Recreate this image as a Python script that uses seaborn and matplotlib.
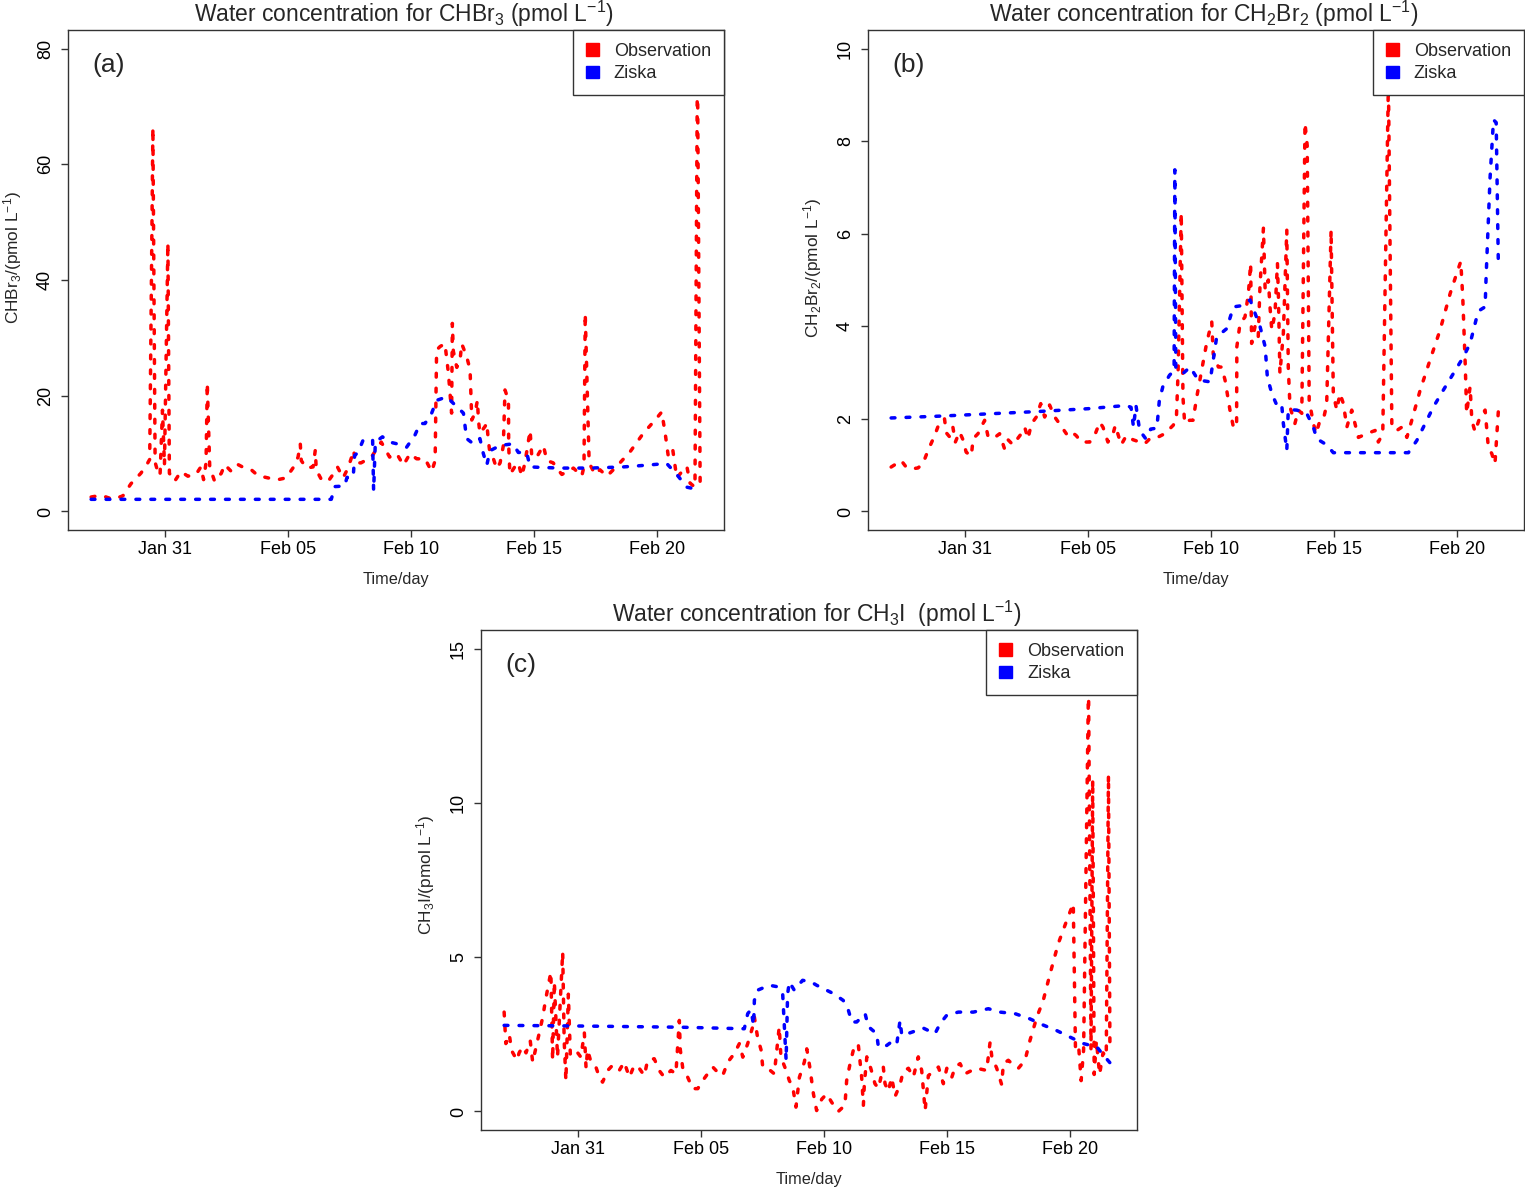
import numpy as np
import pandas as pd
import matplotlib
matplotlib.use("Agg")
import matplotlib.pyplot as plt
from matplotlib.patches import Patch
import seaborn as sns

sns.set_style("ticks")
plt.rcParams["font.family"] = ["Liberation Sans", "DejaVu Sans"]
plt.rcParams["mathtext.fontset"] = "custom"
plt.rcParams["mathtext.rm"] = "Liberation Sans"
plt.rcParams["mathtext.it"] = "Liberation Sans:italic"
plt.rcParams["mathtext.bf"] = "Liberation Sans:bold"
plt.rcParams["mathtext.default"] = "regular"

# time axis: days after Jan 31
start = pd.Timestamp("2016-01-31")
tick_days = [0, 5, 10, 15, 20]
tick_labels = ["Jan 31", "Feb 05", "Feb 10", "Feb 15", "Feb 20"]

# ---- CHBr3 ----
chbr3_obs_day = [-3.00, -2.60, -2.11, -1.71, -1.38, -0.98, -0.75, -0.62, -0.49, -0.40,
                 -0.30, -0.20, -0.10, -0.02, 0.12, 0.18, 0.39, 0.65, 0.93, 1.26,
                 1.46, 1.57, 1.67, 1.72, 1.82, 2.02, 2.29, 2.43, 2.70, 2.97,
                 3.24, 3.51, 3.78, 4.19, 4.59, 4.92, 5.20, 5.41, 5.50, 5.54,
                 5.75, 6.02, 6.11, 6.15, 6.36, 6.63, 6.83, 7.01, 7.24, 7.44,
                 7.68, 7.71, 7.97, 8.39, 8.79, 9.13, 9.42, 9.69, 9.96, 10.23,
                 10.57, 10.84, 10.98, 11.04, 11.18, 11.38, 11.52, 11.65, 11.68, 11.72,
                 11.86, 11.99, 12.06, 12.26, 12.40, 12.47, 12.60, 12.70, 12.74, 12.80,
                 13.01, 13.08, 13.14, 13.21, 13.35, 13.48, 13.62, 13.75, 13.82, 13.96,
                 13.97, 14.02, 14.23, 14.36, 14.50, 14.63, 14.84, 14.91, 15.11, 15.38,
                 15.52, 15.78, 15.92, 16.13, 16.60, 16.94, 17.03, 17.08, 17.24, 17.48,
                 17.68, 17.96, 18.36, 18.90, 19.44, 19.92, 20.19, 20.33, 20.46, 20.64,
                 20.80, 21.07, 21.21, 21.34, 21.54, 21.64, 21.75]
chbr3_obs = [2.5, 2.8, 2.1, 2.7, 4.8, 6.6, 8.0, 9.0, 66.3, 8.5,
             7.0, 6.2, 17.5, 8.0, 46.4, 6.6, 5.2, 6.9, 6.1, 6.4,
             7.7, 5.5, 8.4, 22.2, 7.7, 5.2, 6.6, 8.1, 6.9, 8.1,
             7.5, 7.2, 6.2, 5.8, 5.5, 5.8, 7.5, 9.4, 11.7, 8.8,
             7.5, 7.7, 10.6, 7.2, 5.5, 5.2, 6.4, 7.7, 5.8, 7.5,
             10.6, 8.4, 8.4, 9.4, 12.0, 9.4, 10.0, 8.0, 10.0, 9.1,
             9.1, 6.9, 8.8, 27.9, 28.5, 29.0, 23.9, 17.0, 32.5, 27.7,
             24.9, 26.0, 29.0, 26.8, 24.5, 15.8, 17.0, 19.2, 15.8, 13.5,
             14.7, 15.3, 12.4, 10.0, 9.1, 7.4, 8.4, 11.3, 21.0, 19.2,
             11.3, 6.4, 7.8, 8.4, 6.1, 8.4, 14.0, 9.4, 9.4, 11.4,
             8.8, 8.4, 7.5, 6.4, 7.5, 6.1, 7.8, 34.2, 8.4, 6.4,
             7.2, 6.1, 7.8, 10.3, 13.5, 15.8, 17.2, 13.5, 9.4, 10.6,
             5.8, 7.2, 7.8, 4.9, 4.2, 78.0, 4.9]
chbr3_zis_day = [-3.00, 6.76, 6.90, 7.30, 7.40, 7.65, 7.71, 7.85, 8.05, 8.30,
                 8.44, 8.48, 8.55, 8.84, 9.13, 9.42, 9.82, 10.16, 10.37, 10.57,
                 10.84, 11.04, 11.45, 11.79, 12.13, 12.26, 12.53, 12.80, 12.94, 13.08,
                 13.21, 13.62, 14.15, 14.36, 14.70, 14.84, 15.38, 16.06, 17.28, 18.63,
                 19.58, 20.39, 20.80, 21.21, 21.54, 21.70]
chbr3_zis = [2.1, 2.1, 4.3, 4.4, 5.9, 5.9, 9.7, 10.2, 12.3, 12.0,
             12.3, 3.6, 12.0, 12.9, 12.0, 11.7, 11.1, 13.2, 15.2, 15.2,
             17.0, 19.2, 19.8, 18.4, 17.0, 12.6, 11.7, 12.6, 10.0, 8.0,
             10.5, 11.4, 11.7, 10.2, 10.2, 7.7, 7.6, 7.5, 7.5, 7.7,
             8.0, 8.3, 6.4, 4.2, 3.9, 3.9]

# ---- CH2Br2 ----
ch2br2_obs_day = [-3.00, -2.79, -2.59, -2.39, -2.18, -1.91, -1.71, -1.50, -1.23, -1.03,
                  -0.83, -0.76, -0.62, -0.49, -0.39, -0.22, -0.08, 0.05, 0.26, 0.33,
                  0.53, 0.66, 0.80, 0.93, 1.14, 1.41, 1.61, 1.75, 1.95, 2.29,
                  2.43, 2.56, 2.70, 2.90, 3.08, 3.24, 3.44, 3.65, 3.85, 4.12,
                  4.26, 4.52, 4.73, 5.07, 5.27, 5.48, 5.61, 5.81, 6.02, 6.11,
                  6.35, 6.56, 6.83, 7.10, 7.30, 7.51, 7.71, 8.12, 8.46, 8.59,
                  8.66, 8.79, 8.86, 8.93, 9.13, 9.27, 9.42, 9.62, 9.82, 10.03,
                  10.09, 10.30, 10.43, 10.57, 10.77, 10.91, 11.04, 11.05, 11.18, 11.38,
                  11.52, 11.61, 11.65, 11.79, 11.92, 11.99, 12.13, 12.20, 12.33, 12.40,
                  12.47, 12.60, 12.70, 12.74, 12.80, 12.94, 13.01, 13.08, 13.14, 13.21,
                  13.41, 13.55, 13.69, 13.82, 13.91, 13.99, 14.16, 14.27, 14.43, 14.57,
                  14.70, 14.88, 14.97, 15.11, 15.24, 15.38, 15.52, 15.72, 15.85, 15.99,
                  16.33, 16.67, 16.80, 16.98, 17.21, 17.35, 17.55, 17.75, 17.96, 18.16,
                  18.50, 18.90, 19.31, 19.72, 19.99, 20.15, 20.23, 20.33, 20.39, 20.53,
                  20.60, 20.73, 20.93, 21.14, 21.27, 21.41, 21.54, 21.68]
ch2br2_obs = [0.96, 1.03, 1.10, 0.96, 0.92, 0.94, 1.03, 1.32, 1.64, 1.93,
              2.00, 1.70, 1.61, 1.82, 1.50, 1.72, 1.55, 1.28, 1.20, 1.57,
              1.68, 1.82, 1.97, 1.64, 1.57, 1.68, 1.35, 1.55, 1.44, 1.68,
              1.82, 1.57, 1.89, 2.04, 2.33, 2.04, 2.30, 2.04, 1.89, 1.68,
              1.75, 1.64, 1.50, 1.50, 1.64, 1.93, 1.82, 1.50, 1.68, 1.86,
              1.44, 1.64, 1.55, 1.50, 1.46, 1.57, 1.57, 1.68, 1.86, 1.97,
              2.98, 6.45, 2.47, 1.90, 1.97, 1.97, 2.47, 3.05, 3.63, 4.10,
              3.40, 3.12, 3.12, 2.84, 2.19, 1.82, 1.82, 3.56, 4.06, 4.20,
              4.71, 5.36, 3.63, 4.00, 3.78, 4.86, 6.12, 4.78, 5.00, 4.40,
              3.92, 4.28, 5.36, 4.64, 2.98, 3.85, 5.00, 6.08, 3.12, 2.26,
              1.90, 2.19, 2.12, 8.39, 7.90, 2.40, 1.90, 1.68, 1.97, 2.00,
              2.30, 6.08, 2.55, 2.19, 2.55, 2.33, 1.82, 2.19, 1.90, 1.60,
              1.68, 1.75, 1.50, 1.68, 9.30, 1.82, 1.75, 1.82, 1.60, 1.97,
              2.62, 3.27, 3.92, 4.71, 5.15, 5.40, 4.64, 3.20, 2.12, 2.70,
              1.97, 1.72, 2.04, 2.19, 1.39, 1.25, 1.03, 2.19]
ch2br2_zis_day = [-3.00, -1.00, 1.00, 3.00, 5.00, 6.56, 6.75, 6.85, 6.95, 7.10,
                  7.35, 7.55, 7.80, 7.90, 8.04, 8.31, 8.50, 8.53, 8.57, 8.86,
                  9.15, 9.48, 9.96, 10.23, 10.64, 10.91, 11.18, 11.59, 11.79, 11.99,
                  12.20, 12.29, 12.47, 12.67, 12.87, 12.94, 13.08, 13.14, 13.48, 13.89,
                  14.16, 14.30, 14.70, 14.97, 18.02, 18.36, 18.63, 19.04, 19.44, 19.85,
                  20.26, 20.53, 20.80, 20.93, 21.14, 21.18, 21.34, 21.48, 21.59, 21.68]
ch2br2_zis = [2.02, 2.06, 2.11, 2.16, 2.22, 2.29, 2.25, 1.82, 2.29, 1.75,
              1.57, 1.78, 1.80, 2.40, 2.69, 2.94, 3.05, 7.38, 3.10, 2.98,
              3.12, 2.84, 2.80, 3.77, 3.95, 4.42, 4.44, 4.57, 4.28, 4.00,
              3.56, 2.90, 2.55, 2.30, 2.33, 1.90, 1.32, 2.20, 2.19, 2.12,
              1.82, 1.57, 1.44, 1.27, 1.27, 1.53, 1.82, 2.26, 2.62, 2.98,
              3.34, 3.63, 4.20, 4.35, 4.42, 5.07, 7.20, 8.46, 8.40, 5.25]

# ---- CH3I ----
ch3i_obs_day = [-3.00, -2.93, -2.79, -2.70, -2.48, -2.39, -2.25, -2.11, -1.94, -1.84,
                -1.71, -1.57, -1.43, -1.34, -1.23, -1.10, -1.03, -0.96, -0.83, -0.62,
                -0.56, -0.49, -0.39, -0.31, -0.22, -0.01, 0.12, 0.26, 0.33, 0.39,
                0.53, 0.73, 0.87, 1.00, 1.21, 1.41, 1.68, 1.88, 2.09, 2.29,
                2.49, 2.70, 2.83, 3.10, 3.30, 3.51, 3.78, 3.98, 4.12, 4.16,
                4.26, 4.46, 4.66, 4.87, 5.07, 5.27, 5.48, 5.68, 5.88, 6.09,
                6.35, 6.56, 6.70, 6.90, 7.10, 7.17, 7.30, 7.44, 7.51, 7.71,
                7.98, 8.18, 8.25, 8.46, 8.59, 8.73, 8.86, 9.00, 9.20, 9.30,
                9.43, 9.57, 9.70, 9.91, 10.11, 10.31, 10.58, 10.85, 10.92, 11.06,
                11.19, 11.39, 11.46, 11.53, 11.60, 11.64, 11.74, 11.90, 12.07, 12.21,
                12.41, 12.48, 12.61, 12.75, 12.89, 13.09, 13.22, 13.43, 13.63, 13.83,
                13.97, 14.11, 14.24, 14.44, 14.65, 14.85, 14.99, 15.19, 15.33, 15.53,
                15.73, 15.93, 16.21, 16.61, 16.75, 16.82, 17.02, 17.22, 17.29, 17.49,
                17.70, 17.90, 18.17, 18.37, 18.65, 18.91, 19.19, 19.52, 19.87, 20.13,
                20.22, 20.35, 20.45, 20.55, 20.75, 20.85, 20.92, 20.98, 21.07, 21.20,
                21.34, 21.47, 21.56, 21.62]
ch3i_obs = [3.22, 2.20, 2.50, 1.98, 1.66, 1.90, 2.10, 1.90, 2.30, 1.60,
            2.05, 2.55, 3.06, 3.50, 3.98, 4.52, 1.66, 4.20, 1.76, 5.17,
            2.30, 1.00, 3.80, 1.85, 1.98, 1.90, 1.76, 2.55, 1.40, 2.00,
            1.60, 1.44, 1.11, 0.95, 1.33, 1.50, 1.33, 1.60, 1.11, 1.50,
            1.40, 1.16, 1.66, 1.71, 1.33, 1.11, 1.33, 1.22, 2.95, 2.00,
            1.40, 1.11, 0.74, 0.74, 1.00, 1.22, 1.44, 1.27, 1.16, 1.60,
            1.87, 2.20, 1.76, 2.20, 2.74, 3.06, 2.40, 2.00, 1.44, 1.40,
            1.22, 2.74, 1.76, 1.33, 1.00, 0.80, 0.14, 1.11, 1.60, 2.03,
            1.40, 0.57, 0.03, 0.40, 0.57, 0.30, 0.00, 0.20, 1.00, 1.55,
            1.98, 2.20, 1.66, 1.11, 0.20, 0.90, 1.77, 1.40, 0.90, 0.75,
            1.44, 0.90, 0.65, 1.10, 0.49, 0.87, 1.30, 1.40, 1.11, 1.77,
            1.33, 0.03, 1.16, 1.30, 1.44, 0.90, 1.40, 1.10, 1.44, 1.55,
            1.22, 1.30, 1.40, 1.33, 2.25, 1.77, 1.40, 0.87, 1.55, 1.66,
            1.50, 1.40, 1.66, 2.30, 3.06, 3.60, 4.47, 5.44, 6.20, 6.74,
            2.00, 2.10, 1.00, 2.00, 13.90, 2.00, 10.75, 1.20, 2.30, 1.20,
            1.90, 1.77, 10.90, 2.00]
ch3i_zis_day = [-3.00, 0.00, 4.19, 6.76, 6.90, 7.03, 7.14, 7.17, 7.30, 7.78,
                8.12, 8.32, 8.46, 8.52, 8.59, 8.79, 9.13, 9.47, 9.70, 10.38,
                10.78, 10.99, 11.13, 11.33, 11.67, 11.80, 12.14, 12.21, 12.55, 12.82,
                12.96, 13.09, 13.16, 13.50, 14.04, 14.51, 14.72, 14.99, 15.46, 16.07,
                16.68, 17.15, 17.76, 18.37, 18.91, 19.46, 20.00, 20.54, 21.09, 21.34,
                21.63]
ch3i_zis = [2.79, 2.77, 2.73, 2.68, 3.17, 3.30, 2.79, 3.60, 3.93, 4.09,
            4.04, 3.82, 1.66, 3.80, 4.20, 3.93, 4.25, 4.20, 4.09, 3.82,
            3.60, 3.28, 2.90, 2.90, 3.17, 2.75, 2.52, 2.09, 2.14, 2.30,
            2.20, 2.95, 2.47, 2.55, 2.70, 2.52, 2.85, 3.12, 3.22, 3.22,
            3.33, 3.22, 3.17, 3.00, 2.80, 2.62, 2.41, 2.20, 2.09, 1.84,
            1.57]

W, H = 1525, 1188
AXC = "#333333"
dash = (0, (1.1, 3.2))


def to_time(days):
    return start + pd.to_timedelta(days, unit="D")


def draw_panel(ax, obs_day, obs, zis_day, zis, yticks, title, ylab, ylab_y, tag):
    sns.lineplot(x=to_time(obs_day), y=obs, ax=ax, color="red", linewidth=2.5,
                 linestyle=dash, dash_capstyle="round", estimator=None,
                 sort=False, legend=False)
    sns.lineplot(x=to_time(zis_day), y=zis, ax=ax, color="blue", linewidth=2.5,
                 linestyle=dash, dash_capstyle="round", estimator=None,
                 sort=False, legend=False)

    span = yticks[-1] - yticks[0]
    ax.set_ylim(yticks[0] - 0.04 * span, yticks[-1] + 0.04 * span)
    ax.set_xlim(to_time([-3.94])[0], to_time([22.72])[0])
    ax.set_yticks(yticks)
    ax.set_yticklabels([str(v) for v in yticks])
    ax.set_xticks(to_time(tick_days))
    ax.set_xticklabels(tick_labels)

    ax.tick_params(axis="both", direction="out", length=5, width=1,
                   color=AXC, labelsize=13, labelcolor="black")
    ax.tick_params(axis="x", pad=3)
    ax.tick_params(axis="y", labelrotation=90, pad=5)
    for lbl in ax.get_yticklabels():
        lbl.set_verticalalignment("center")
    for sp in ax.spines.values():
        sp.set_visible(True)
        sp.set_color(AXC)
        sp.set_linewidth(1)

    ax.set_title(title, fontsize=16.5, pad=6, x=0.512)
    ax.set_xlabel("Time/day", fontsize=11.7)
    ax.set_ylabel(ylab, fontsize=12.4)
    ax.xaxis.set_label_coords(0.5, -0.084)
    ax.yaxis.set_label_coords(-0.067, ylab_y)

    ax.text(0.037, 0.93, tag, transform=ax.transAxes, fontsize=19,
            ha="left", va="center")

    handles = [Patch(facecolor="red", edgecolor="red", label="Observation"),
               Patch(facecolor="blue", edgecolor="blue", label="Ziska")]
    leg = ax.legend(handles=handles, loc="upper right", borderaxespad=0,
                    frameon=True, fancybox=False, framealpha=1,
                    edgecolor=AXC, fontsize=13, handlelength=0.7,
                    handleheight=0.7, handletextpad=0.85, borderpad=0.72,
                    labelspacing=0.3)
    leg.get_frame().set_linewidth(1)
    leg.set_zorder(10)


fig = plt.figure(figsize=(W / 100, H / 100), dpi=100)
ax_a = fig.add_axes([68 / W, 1 - 530 / H, 656 / W, 500 / H])
ax_b = fig.add_axes([868 / W, 1 - 530 / H, 656 / W, 500 / H])
ax_c = fig.add_axes([481 / W, 1 - 1130 / H, 656 / W, 500 / H])

draw_panel(ax_a, chbr3_obs_day, chbr3_obs, chbr3_zis_day, chbr3_zis,
           [0, 20, 40, 60, 80],
           r"Water concentration for CHBr$_3$ (pmol L$^{-1}$)",
           r"CHBr$_3$/(pmol L$^{-1}$)", 0.545, "(a)")
draw_panel(ax_b, ch2br2_obs_day, ch2br2_obs, ch2br2_zis_day, ch2br2_zis,
           [0, 2, 4, 6, 8, 10],
           r"Water concentration for CH$_2$Br$_2$ (pmol L$^{-1}$)",
           r"CH$_2$Br$_2$/(pmol L$^{-1}$)", 0.525, "(b)")
draw_panel(ax_c, ch3i_obs_day, ch3i_obs, ch3i_zis_day, ch3i_zis,
           [0, 5, 10, 15],
           r"Water concentration for CH$_3$I  (pmol L$^{-1}$)",
           r"CH$_3$I/(pmol L$^{-1}$)", 0.51, "(c)")

fig.savefig("out.png", dpi=100, facecolor="white")
